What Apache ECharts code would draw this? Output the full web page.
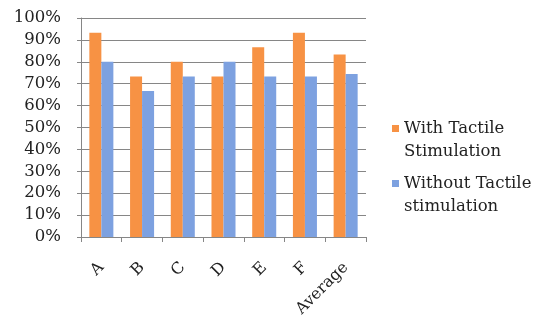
<!DOCTYPE html>
<html><head><meta charset="utf-8">
<script src="https://cdn.jsdelivr.net/npm/echarts@6/dist/echarts.min.js"></script>
<style>html,body{margin:0;padding:0;background:#fff}#c{width:547px;height:320px}</style>
</head><body><div id="c"></div>
<script>
const categories = ['A','B','C','D','E','F','Average'];
const withTactile = [93.3, 73.3, 80, 73.3, 86.7, 93.3, 83.3];
const withoutTactile = [80, 66.7, 73.3, 80, 73.3, 73.3, 74.4];
const seriesNames = ['With Tactile Stimulation', 'Without Tactile stimulation'];
const legendLines = [['With Tactile', 'Stimulation'], ['Without Tactile', 'stimulation']];
const colors = ['#F79244', '#7DA1E0'];
const serif = '"DejaVu Serif", "Liberation Serif", serif';
const chart = echarts.init(document.getElementById('c'), null, {renderer:'canvas'});
chart.setOption({
  animation:false,
  grid:{left:81, right:181, top:18, bottom:83},
  legend:{
    orient:'vertical', left:382, top:112, itemWidth:0, itemHeight:0, itemGap:9,
    icon:'rect', itemStyle:{opacity:0},
    formatter:function(name){
      const i = seriesNames.indexOf(name);
      const sq = i === 0 ? 'sqA' : 'sqB';
      return '{' + sq + '|}{g|}{t|' + legendLines[i][0] + '}\n{ind|}{t|' + legendLines[i][1] + '}';
    },
    textStyle:{
      fontFamily:serif, fontSize:16.5, color:'#222', lineHeight:23,
      rich:{
        sqA:{width:7, height:7, backgroundColor:colors[0]},
        sqB:{width:7, height:7, backgroundColor:colors[1]},
        g:{width:5},
        ind:{width:12},
        t:{fontFamily:serif, fontSize:16.5, color:'#222', lineHeight:23}
      }
    }
  },
  xAxis:{
    type:'category', data:categories,
    axisLine:{lineStyle:{color:'#868686'}},
    axisTick:{show:true, length:5, lineStyle:{color:'#868686'}},
    axisLabel:{rotate:45, fontFamily:serif, fontSize:16, color:'#222', margin:28}
  },
  yAxis:{
    type:'value', min:0, max:100, interval:10,
    axisLine:{show:true, lineStyle:{color:'#868686'}},
    axisTick:{show:true, length:4, lineStyle:{color:'#868686'}},
    splitLine:{lineStyle:{color:'#868686'}},
    axisLabel:{formatter:'{value}%', fontFamily:serif, fontSize:16.5, color:'#222', margin:20}
  },
  series:[
    {name:seriesNames[0], type:'bar', data:withTactile, itemStyle:{color:colors[0]}, barGap:'0%', barCategoryGap:'41%'},
    {name:seriesNames[1], type:'bar', data:withoutTactile, itemStyle:{color:colors[1]}}
  ]
});
</script></body></html>
